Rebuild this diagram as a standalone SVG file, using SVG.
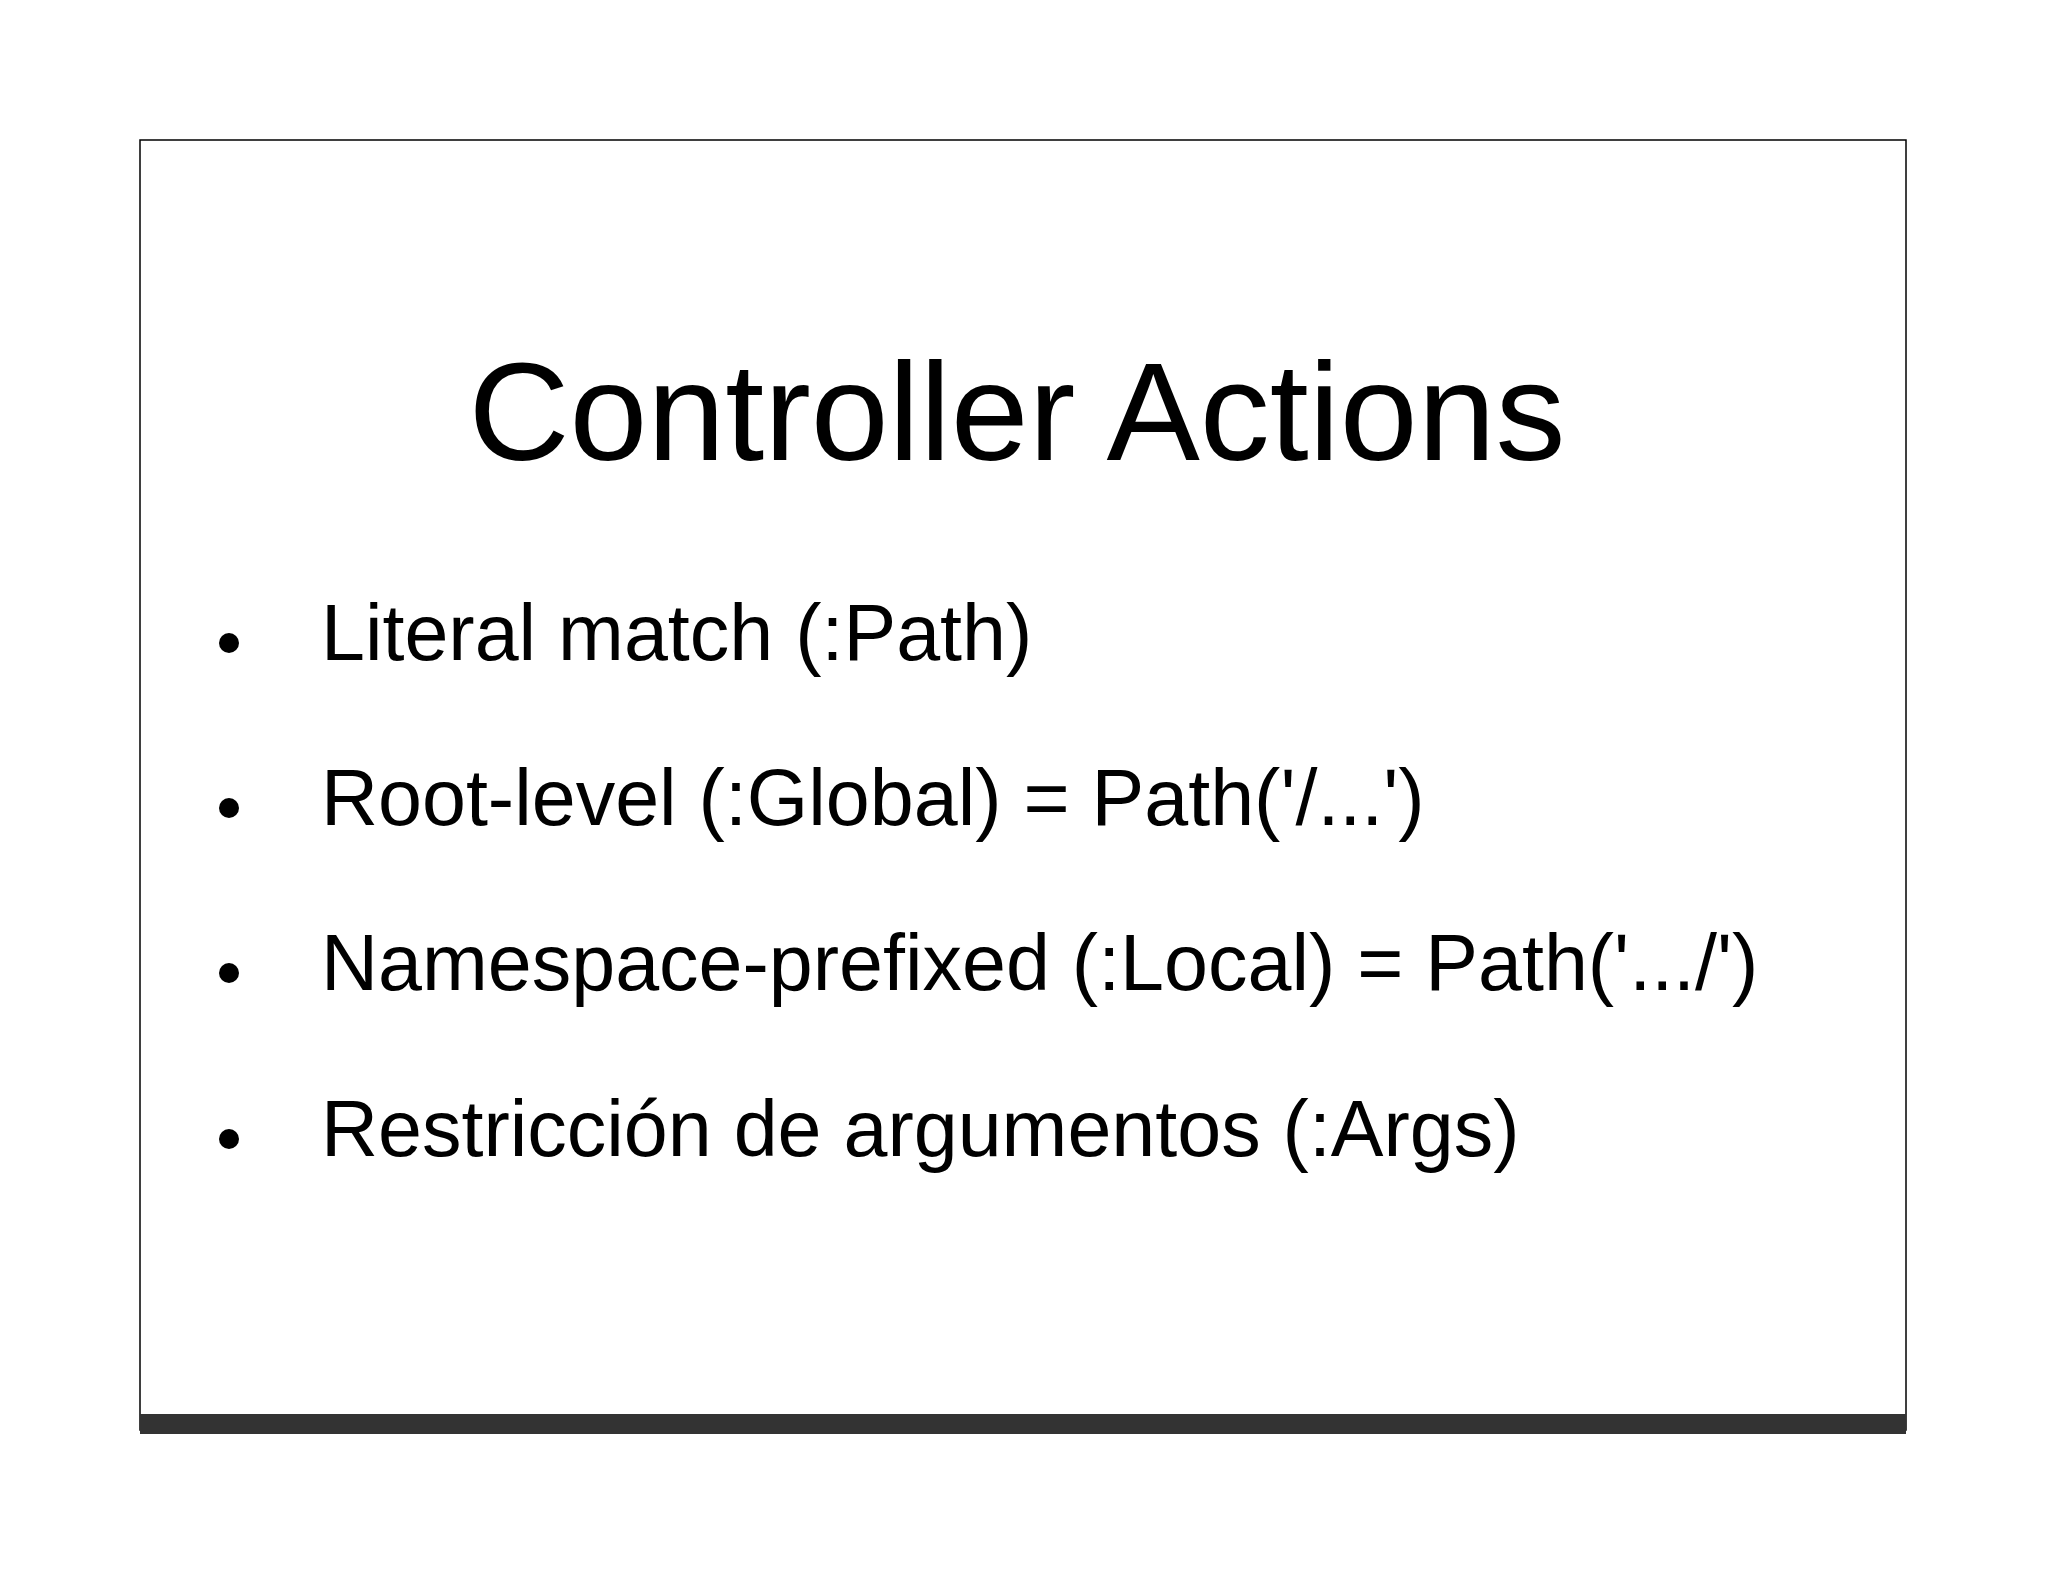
<svg xmlns="http://www.w3.org/2000/svg" width="2048" height="1582" viewBox="0 0 2048 1582">
<style>
.t{font-family:"Liberation Sans",Arial,sans-serif;fill:#000}
.b{font-size:79px}
</style>
<rect width="2048" height="1582" fill="#fff"/>
<g id="frame">
<rect x="140" y="140" width="1766" height="1290" fill="#fff" stroke="#000" stroke-width="1.5"/>
<rect x="140" y="1414" width="1766" height="20" fill="#333"/>
</g>
<g id="title"><text class="t" x="1017" y="460" font-size="140" text-anchor="middle">Controller Actions</text></g>
<g id="bullets">
<circle cx="229" cy="643" r="10"/>
<text class="t b" x="321" y="660">Literal match (:Path)</text>
<circle cx="229" cy="808" r="10"/>
<text class="t b" x="321" y="825">Root-level (:Global) = Path('/...')</text>
<circle cx="229" cy="973" r="10"/>
<text class="t b" x="321" y="990">Namespace-prefixed (:Local) = Path('.../')</text>
<circle cx="229" cy="1139" r="10"/>
<text class="t b" x="321" y="1156">Restricción de argumentos (:Args)</text>
</g>
</svg>
